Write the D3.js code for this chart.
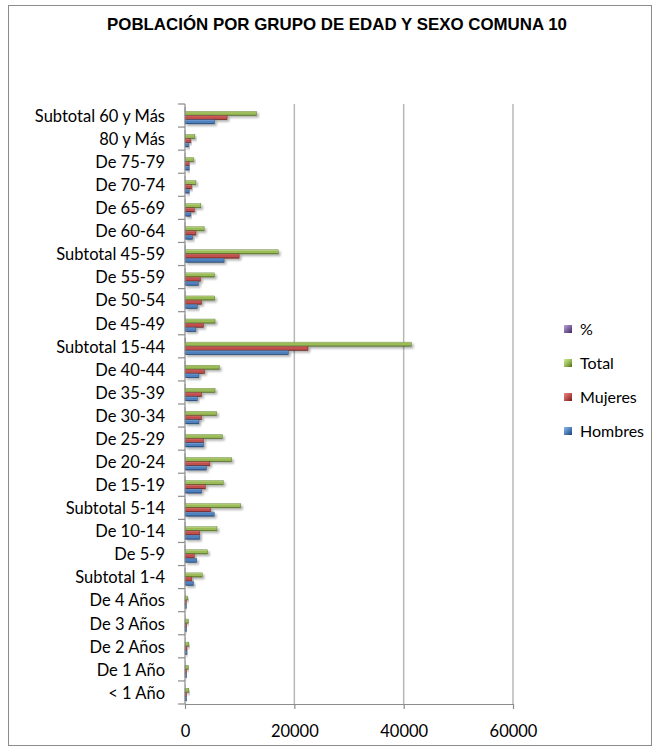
<!DOCTYPE html>
<html>
<head>
<meta charset="utf-8">
<script src="https://cdn.jsdelivr.net/npm/d3@7"></script>
<style>
  html, body { margin: 0; padding: 0; background: #fff; }
  svg { display: block; }
</style>
</head>
<body>
<svg id="chart" width="656" height="749"></svg>
<script>
// Age groups, top to bottom
const categories = [
  "Subtotal 60 y Más", "80 y Más", "De 75-79", "De 70-74", "De 65-69", "De 60-64",
  "Subtotal 45-59", "De 55-59", "De 50-54", "De 45-49",
  "Subtotal 15-44", "De 40-44", "De 35-39", "De 30-34", "De 25-29", "De 20-24", "De 15-19",
  "Subtotal 5-14", "De 10-14", "De 5-9",
  "Subtotal 1-4", "De 4 Años", "De 3 Años", "De 2 Años", "De 1 Año", "< 1 Año"
];
const hombres = [5400, 650, 750, 750, 1050, 1400, 7150, 2450, 2250, 2000, 18900, 2550, 2250, 2550, 3400, 3900, 3050, 5350, 2700, 2150, 1550, 250, 300, 350, 300, 300];
const mujeres = [7700, 1050, 750, 1200, 1700, 2000, 9900, 2850, 3050, 3400, 22500, 3600, 3050, 3050, 3400, 4550, 3700, 4700, 2700, 1700, 1250, 250, 300, 350, 300, 300];
const total   = [13100, 1800, 1600, 2000, 2900, 3500, 17050, 5400, 5450, 5500, 41400, 6300, 5500, 5800, 6850, 8550, 7000, 10200, 5850, 4150, 3150, 500, 600, 700, 600, 700];
const pct     = [15.3, 2.1, 1.9, 2.3, 3.4, 4.1, 19.9, 6.3, 6.4, 6.4, 48.4, 7.4, 6.4, 6.8, 8.0, 10.0, 8.2, 11.9, 6.8, 4.8, 3.7, 0.6, 0.7, 0.8, 0.7, 0.8];
const xTicks = [0, 20000, 40000, 60000];

// Series in legend order (top of each group first)
const series = [
  { name: "%",       values: pct,     base: "#8064a2", light: "#b9a5d6", dark: "#3f2d5a" },
  { name: "Total",   values: total,   base: "#9bbb59", light: "#cde99a", dark: "#4d6a1e" },
  { name: "Mujeres", values: mujeres, base: "#c0504d", light: "#e88986", dark: "#6b1f1c" },
  { name: "Hombres", values: hombres, base: "#4f81bd", light: "#8fb6e8", dark: "#1f3f6e" }
];

const svg = d3.select("#chart");
const plot = { left: 185, right: 513, top: 104, bottom: 704 };
const labelFont = "Lato, 'Open Sans', sans-serif";

// Outer chart frame
svg.append("rect")
  .attr("x", 8.5).attr("y", 5.5).attr("width", 643).attr("height", 740)
  .attr("fill", "#fff").attr("stroke", "#8c8c8c").attr("stroke-width", 1);

const defs = svg.append("defs");
series.forEach((s, i) => {
  const g = defs.append("linearGradient").attr("id", "bar" + i)
    .attr("x1", 0).attr("y1", 0).attr("x2", 0).attr("y2", 1);
  g.append("stop").attr("offset", "0%").attr("stop-color", s.light);
  g.append("stop").attr("offset", "30%").attr("stop-color", s.base);
  g.append("stop").attr("offset", "70%").attr("stop-color", s.base);
  g.append("stop").attr("offset", "100%").attr("stop-color", s.dark);
  const m = defs.append("linearGradient").attr("id", "mk" + i)
    .attr("x1", 0).attr("y1", 0).attr("x2", 1).attr("y2", 1);
  m.append("stop").attr("offset", "0%").attr("stop-color", s.light);
  m.append("stop").attr("offset", "50%").attr("stop-color", s.base);
  m.append("stop").attr("offset", "100%").attr("stop-color", s.dark);
});
const shadow = defs.append("filter").attr("id", "shadow")
  .attr("x", "-10%").attr("y", "-50%").attr("width", "130%").attr("height", "250%");
shadow.append("feDropShadow").attr("dx", 2).attr("dy", 2)
  .attr("stdDeviation", 1.3).attr("flood-color", "#000").attr("flood-opacity", 0.3);

// Scales
const x = d3.scaleLinear().domain([0, 60000]).range([plot.left, plot.right]);
const y = d3.scaleBand().domain(categories).range([plot.top, plot.bottom]).padding(0);
const step = y.step();
const inner = d3.scaleBand().domain(series.map(s => s.name))
  .range([step * 1.5 / 11, step - step * 1.5 / 11]).padding(0);

// Title
svg.append("text")
  .attr("x", 337).attr("y", 30)
  .attr("text-anchor", "middle")
  .attr("font-family", "'Liberation Sans Narrow', 'Arial Narrow', 'Liberation Sans', sans-serif")
  .attr("font-weight", "bold")
  .attr("font-size", 17)
  .attr("textLength", 460).attr("lengthAdjust", "spacingAndGlyphs")
  .attr("fill", "#000")
  .text("POBLACIÓN POR GRUPO DE EDAD Y SEXO COMUNA 10");

// Vertical gridlines
svg.append("g").selectAll("line")
  .data(xTicks.filter(d => d > 0))
  .join("line")
  .attr("x1", d => x(d)).attr("x2", d => x(d))
  .attr("y1", plot.top).attr("y2", plot.bottom)
  .attr("stroke", "#b8b8b8").attr("stroke-width", 1.5);

// Bars
const groups = svg.append("g").selectAll("g")
  .data(categories)
  .join("g")
  .attr("transform", d => `translate(0,${y(d)})`);

series.forEach((s, si) => {
  groups.append("rect")
    .attr("x", x(0))
    .attr("y", inner(s.name))
    .attr("width", (d, i) => Math.max(0, x(s.values[i]) - x(0)))
    .attr("height", inner.bandwidth())
    .attr("fill", `url(#bar${si})`)
    .attr("stroke", s.dark).attr("stroke-width", 0.4)
    .attr("filter", "url(#shadow)");
});

// Category axis
const yAxis = d3.axisLeft(y).tickSize(0).tickPadding(20);
const yg = svg.append("g").attr("transform", `translate(${plot.left},1)`).call(yAxis);
yg.select(".domain").remove();
yg.selectAll("text")
  .attr("font-family", labelFont)
  .attr("font-size", 16.5)
  .attr("fill", "#000");
// Boundary tick marks between categories
const bounds = categories.map(c => y(c)).concat([plot.bottom]);
svg.append("g").selectAll("line")
  .data(bounds)
  .join("line")
  .attr("x1", plot.left - 7).attr("x2", plot.left)
  .attr("y1", d => d).attr("y2", d => d)
  .attr("stroke", "#8c8c8c").attr("stroke-width", 1.2);
svg.append("line")
  .attr("x1", plot.left).attr("x2", plot.left)
  .attr("y1", plot.top).attr("y2", plot.bottom)
  .attr("stroke", "#8c8c8c").attr("stroke-width", 1.2);

// Value axis
const xAxis = d3.axisBottom(x).tickValues(xTicks).tickFormat(d3.format("d"))
  .tickSizeInner(5).tickSizeOuter(0).tickPadding(16);
const xg = svg.append("g").attr("transform", `translate(0,${plot.bottom})`).call(xAxis);
xg.select(".domain").attr("stroke", "#8c8c8c").attr("stroke-width", 1.2);
xg.selectAll(".tick line").attr("stroke", "#8c8c8c").attr("stroke-width", 1.2);
xg.selectAll("text")
  .attr("font-family", labelFont)
  .attr("font-size", 16.5)
  .attr("fill", "#000");

// Legend
const legendY = [329, 363, 397, 431];
const lg = svg.append("g").selectAll("g")
  .data(series)
  .join("g")
  .attr("transform", (d, i) => `translate(564,${legendY[i]})`);
lg.append("rect")
  .attr("x", 0).attr("y", -4).attr("width", 8).attr("height", 8)
  .attr("fill", (d, i) => `url(#mk${i})`);
lg.append("text")
  .attr("x", 16).attr("y", 0).attr("dy", "0.35em")
  .attr("font-family", labelFont)
  .attr("font-size", 16)
  .attr("fill", "#000")
  .text(d => d.name);
</script>
</body>
</html>
